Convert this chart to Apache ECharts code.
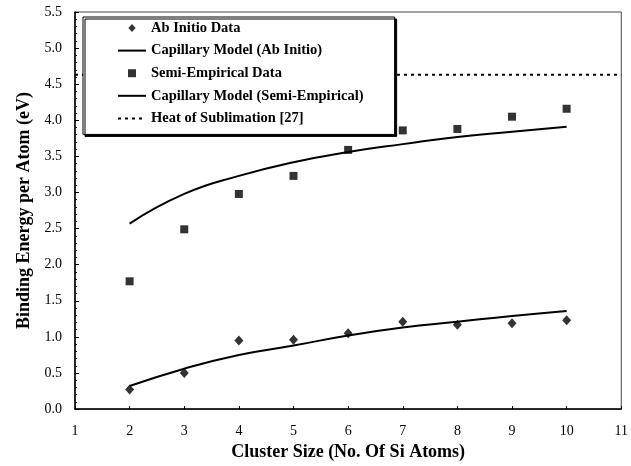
<!DOCTYPE html>
<html>
<head>
<meta charset="utf-8">
<script src="https://cdn.jsdelivr.net/npm/echarts@6/dist/echarts.min.js"></script>
<style>html,body{margin:0;padding:0;background:#fff}#c{width:631px;height:466px}</style>
</head>
<body>
<div id="c"></div>
<script>
var clusterSizes = [2, 3, 4, 5, 6, 7, 8, 9, 10];
var abInitioData = [0.27, 0.50, 0.95, 0.96, 1.05, 1.21, 1.17, 1.19, 1.23];
var capAbInitio = [0.32, 0.56, 0.75, 0.88, 1.02, 1.13, 1.21, 1.29, 1.36];
var semiEmpData = [1.77, 2.49, 2.98, 3.23, 3.59, 3.86, 3.88, 4.05, 4.16];
var capSemiEmp = [2.57, 2.98, 3.23, 3.42, 3.56, 3.67, 3.77, 3.84, 3.91];
var heatX = [1, 11];
var heatOfSublimation = 4.63;
var seriesNames = ['Ab Initio Data', 'Capillary Model (Ab Initio)', 'Semi-Empirical Data', 'Capillary Model (Semi-Empirical)', 'Heat of Sublimation [27]'];

function pairs(xs, ys) { return xs.map(function (x, i) { return [x, ys[i]]; }); }

var serif = '"Liberation Serif", "DejaVu Serif", serif';
var hideSym = {opacity: 0};
var diamondIcon = 'path://M0,0L0.9,1L0,2L-0.9,1Z';
var squareIcon = 'path://M0,0L1,0L1,1L0,1Z';
var chart = echarts.init(document.getElementById('c'), null, {renderer: 'canvas'});
chart.setOption({
  animation: false,
  backgroundColor: '#fff',
  grid: {left: 75, right: 6, top: 12, bottom: 55, show: true, borderColor: '#444', borderWidth: 1, backgroundColor: 'transparent'},
  legend: {
    orient: 'vertical', left: 83, top: 17,
    symbolKeepAspect: true,
    data: [
      {name: seriesNames[0], icon: diamondIcon},
      {name: seriesNames[1], itemStyle: hideSym},
      {name: seriesNames[2], icon: squareIcon},
      {name: seriesNames[3], itemStyle: hideSym},
      {name: seriesNames[4], itemStyle: hideSym}
    ],
    backgroundColor: '#fff', borderColor: '#000', borderWidth: 1,
    shadowColor: '#000', shadowOffsetX: 2, shadowOffsetY: 2, shadowBlur: 0,
    padding: [3, 31, 8, 34],
    itemWidth: 28, itemHeight: 8, itemGap: 6.6,
    textStyle: {fontFamily: serif, fontWeight: 'bold', fontSize: 14.5, lineHeight: 16, color: '#000'},
    selectedMode: false
  },
  xAxis: {
    type: 'value', min: 1, max: 11, interval: 1,
    name: 'Cluster Size (No. Of Si Atoms)', nameLocation: 'middle', nameGap: 31,
    nameTextStyle: {fontFamily: serif, fontWeight: 'bold', fontSize: 18, color: '#000'},
    axisLine: {lineStyle: {color: '#000', width: 1.5}},
    axisTick: {inside: true, length: 3, lineStyle: {color: '#000'}},
    axisLabel: {fontFamily: serif, fontSize: 14, color: '#000', margin: 15},
    splitLine: {show: false}
  },
  yAxis: {
    type: 'value', min: 0, max: 5.5, interval: 0.5,
    name: 'Binding Energy per Atom (eV)', nameLocation: 'middle', nameGap: 42,
    nameTextStyle: {fontFamily: serif, fontWeight: 'bold', fontSize: 18, color: '#000'},
    axisLine: {lineStyle: {color: '#000', width: 1.5}},
    axisTick: {inside: true, length: 4, lineStyle: {color: '#000'}},
    minorTick: {show: true, splitNumber: 5, length: 2, lineStyle: {color: '#000'}},
    axisLabel: {fontFamily: serif, fontSize: 14, color: '#000', margin: 13, formatter: function (v) { return v.toFixed(1); }},
    splitLine: {show: false}
  },
  series: [
    {name: seriesNames[4], type: 'line', data: pairs(heatX, [heatOfSublimation, heatOfSublimation]), symbol: 'none', z: 1,
      lineStyle: {color: '#000', width: 2, type: [3, 4]}, itemStyle: {color: '#000'}},
    {name: seriesNames[0], type: 'scatter', data: pairs(clusterSizes, abInitioData), symbol: 'diamond', symbolSize: [9, 10],
      itemStyle: {color: '#000'}},
    {name: seriesNames[1], type: 'line', data: pairs(clusterSizes, capAbInitio), symbol: 'none', smooth: true,
      lineStyle: {color: '#000', width: 2}, itemStyle: {color: '#000'}},
    {name: seriesNames[2], type: 'scatter', data: pairs(clusterSizes, semiEmpData), symbol: 'rect', symbolSize: 8,
      itemStyle: {color: '#000'}},
    {name: seriesNames[3], type: 'line', data: pairs(clusterSizes, capSemiEmp), symbol: 'none', smooth: true,
      lineStyle: {color: '#000', width: 2}, itemStyle: {color: '#000'}}
  ]
});
</script>
</body>
</html>
